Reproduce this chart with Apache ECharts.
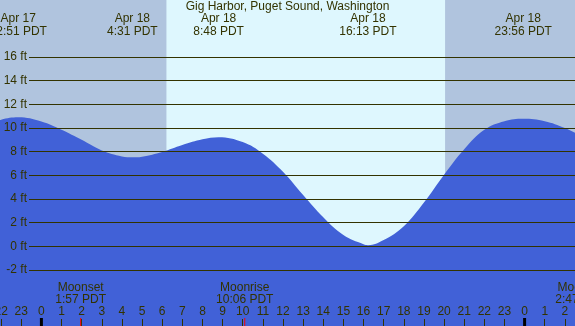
<!DOCTYPE html>
<html>
<head>
<meta charset="utf-8">
<script src="https://cdn.jsdelivr.net/npm/echarts@6/dist/echarts.min.js"></script>
<style>
  html, body { margin: 0; padding: 0; background: #b0c4de; }
  #tideChart { width: 575px; height: 326px; }
</style>
</head>
<body>
<div id="tideChart"></div>
<script>
// hours counted from Apr 18 00:00 PDT
const tideTimes = [-3, -2, -1.15, 0, 1, 2, 3, 4, 4.52, 5, 6, 7, 8, 8.8, 10, 11, 12, 13, 14, 15, 16, 16.22, 17, 18, 19, 20, 21, 22, 23, 23.93, 25, 26, 27];
const tideHeights = [10.2, 10.7, 10.9, 10.55, 9.85, 9.0, 8.1, 7.6, 7.52, 7.58, 7.98, 8.56, 9.04, 9.22, 8.81, 7.83, 6.3, 4.33, 2.45, 0.95, 0.17, 0.1, 0.53, 1.7, 3.7, 6.05, 8.2, 9.85, 10.58, 10.78, 10.58, 10.0, 9.15];

const extremeTimes = [-1.15, 4.517, 8.8, 16.217, 23.933];
const extremeDates = ['Apr 17', 'Apr 18', 'Apr 18', 'Apr 18', 'Apr 18'];
const extremeLabels = ['22:51 PDT', '4:31 PDT', '8:48 PDT', '16:13 PDT', '23:56 PDT'];

const moonTimes = [1.95, 10.1, 26.783];
const moonNames = ['Moonset', 'Moonrise', 'Moonset'];
const moonLabels = ['1:57 PDT', '10:06 PDT', '2:47 PDT'];

const midnightTimes = [0, 24];
const daylight = [[6.21, 20.05]];

const yTicks = { min: -2, max: 16, step: 2 };

const TEXT = '#333300';
const FONT = 'Liberation Sans';
const WATER = '#4161d7';
const NIGHT = '#b0c4de';
const DAY = '#def7fe';

// the water grid fills the whole picture, the y scale matches the ft grid below
const Y_MIN = -6.732;
const Y_MAX = 20.817;

const chart = echarts.init(document.getElementById('tideChart'));

const option = {
  backgroundColor: NIGHT,
  animation: false,
  title: {
    text: 'Gig Harbor, Puget Sound, Washington',
    left: 'center',
    top: 1,
    padding: 0,
    textStyle: { fontFamily: FONT, fontSize: 12, fontWeight: 'normal', color: TEXT }
  },
  grid: [
    { left: -19, right: -10, top: 0, bottom: 0, outerBoundsMode: 'none', containLabel: false },
    { left: 29, right: 0, top: 57, bottom: 56, outerBoundsMode: 'none', containLabel: false }
  ],
  xAxis: [
    {
      type: 'value',
      gridIndex: 0,
      position: 'bottom',
      min: -3,
      max: 27,
      interval: 1,
      z: 5,
      axisLine: { show: false, onZero: false },
      splitLine: { show: false },
      axisTick: { inside: true, length: 7, lineStyle: { color: TEXT } },
      axisLabel: {
        inside: true,
        margin: 8,
        color: TEXT,
        fontFamily: FONT,
        fontSize: 12,
        hideOverlap: false,
        formatter: v => String(((v % 24) + 24) % 24)
      }
    },
    { type: 'value', gridIndex: 1, min: -3, max: 27, show: false }
  ],
  yAxis: [
    { type: 'value', gridIndex: 0, min: Y_MIN, max: Y_MAX, show: false },
    {
      type: 'value',
      gridIndex: 1,
      min: yTicks.min,
      max: yTicks.max,
      interval: yTicks.step,
      z: 5,
      axisLine: { show: false },
      axisTick: { show: false },
      axisLabel: {
        margin: 2,
        color: TEXT,
        fontFamily: FONT,
        fontSize: 12,
        formatter: '{value} ft'
      },
      splitLine: { lineStyle: { color: TEXT, width: 1 } }
    }
  ],
  series: [
    {
      // daylight band
      type: 'custom',
      xAxisIndex: 0,
      yAxisIndex: 0,
      z: 1,
      silent: true,
      data: daylight,
      encode: { x: [0, 1] },
      renderItem: (params, api) => {
        const p0 = api.coord([api.value(0), Y_MAX]);
        const p1 = api.coord([api.value(1), Y_MIN]);
        return {
          type: 'rect',
          shape: { x: p0[0], y: p0[1], width: p1[0] - p0[0], height: p1[1] - p0[1] },
          style: { fill: DAY }
        };
      }
    },
    {
      name: 'tide',
      type: 'line',
      xAxisIndex: 0,
      yAxisIndex: 0,
      z: 2,
      smooth: 0.4,
      symbol: 'none',
      data: tideTimes.map((t, i) => [t, tideHeights[i]]),
      lineStyle: { width: 0 },
      areaStyle: { color: WATER, opacity: 1, origin: 'start' }
    },
    {
      // tide extreme labels along the top
      type: 'custom',
      xAxisIndex: 0,
      yAxisIndex: 0,
      z: 6,
      silent: true,
      data: extremeTimes.map((t, i) => [t, i]),
      encode: { x: 0 },
      renderItem: (params, api) => {
        const i = params.dataIndex;
        const p = api.coord([api.value(0), Y_MAX]);
        return {
          type: 'text',
          x: p[0],
          y: p[1] + 12.5,
          style: {
            text: extremeDates[i] + '\n' + extremeLabels[i],
            fill: TEXT,
            font: '12px ' + FONT,
            align: 'center',
            verticalAlign: 'top',
            lineHeight: 13
          }
        };
      }
    },
    {
      // moonrise / moonset
      type: 'custom',
      xAxisIndex: 0,
      yAxisIndex: 0,
      z: 6,
      silent: true,
      data: moonTimes.map((t, i) => [t, i]),
      encode: { x: 0 },
      renderItem: (params, api) => {
        const i = params.dataIndex;
        const p = api.coord([api.value(0), Y_MIN]);
        return {
          type: 'group',
          children: [
            {
              type: 'line',
              shape: { x1: p[0], y1: p[1] - 8, x2: p[0], y2: p[1] },
              style: { stroke: '#ff0000', lineWidth: 1 }
            },
            {
              type: 'text',
              x: p[0],
              y: p[1] - 44.5,
              style: {
                text: moonNames[i] + '\n' + moonLabels[i],
                fill: TEXT,
                font: '12px ' + FONT,
                align: 'center',
                verticalAlign: 'top',
                lineHeight: 12
              }
            }
          ]
        };
      }
    },
    {
      // midnight ticks
      type: 'custom',
      xAxisIndex: 0,
      yAxisIndex: 0,
      z: 6,
      silent: true,
      data: midnightTimes.map(t => [t]),
      encode: { x: 0 },
      renderItem: (params, api) => {
        const p = api.coord([api.value(0), Y_MIN]);
        return {
          type: 'rect',
          shape: { x: p[0] - 1.5, y: p[1] - 8, width: 3, height: 8 },
          style: { fill: '#000000' }
        };
      }
    }
  ]
};

chart.setOption(option);
window.addEventListener('resize', () => chart.resize());
</script>
</body>
</html>
